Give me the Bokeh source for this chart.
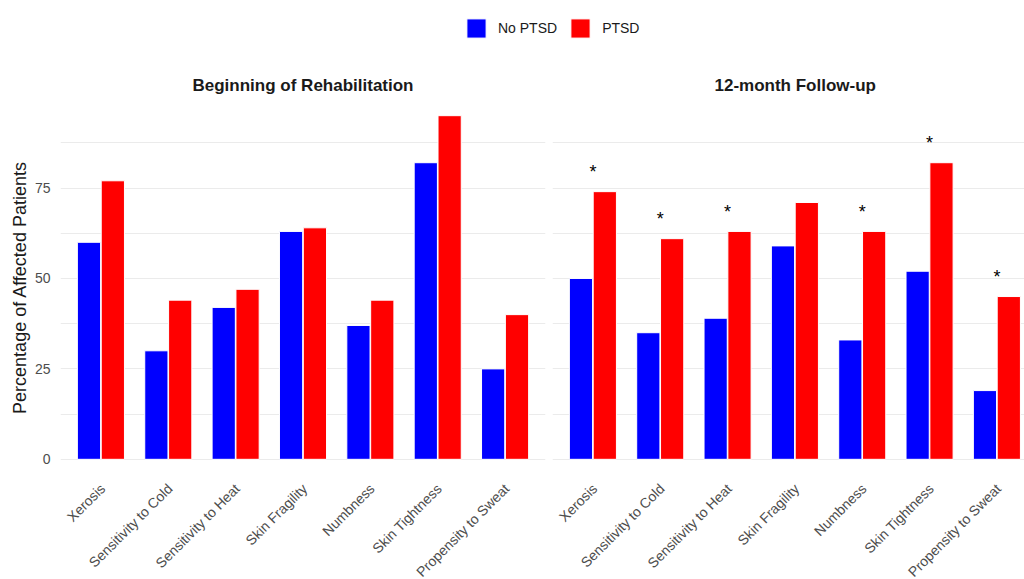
import numpy as np
from bokeh.plotting import figure
from bokeh.layouts import column, row
from bokeh.models import (ColumnDataSource, Range1d, FixedTicker, Legend, LegendItem)
from bokeh.transform import dodge
from bokeh.core.properties import value
from bokeh.embed import file_html
from bokeh.resources import INLINE

# ---------------- data ----------------
categories = ["Xerosis", "Sensitivity to Cold", "Sensitivity to Heat",
              "Skin Fragility", "Numbness", "Skin Tightness", "Propensity to Sweat"]
groups = ["No PTSD", "PTSD"]
panels = ["Beginning of Rehabilitation", "12-month Follow-up"]
begin_no_ptsd = [60, 30, 42, 63, 37, 82, 25]
begin_ptsd = [77, 44, 47, 64, 44, 95, 40]
follow_no_ptsd = [50, 35, 39, 59, 33, 52, 19]
follow_ptsd = [74, 61, 63, 71, 63, 82, 45]
follow_significant = [True, True, True, False, True, True, True]
y_ticks = [0, 25, 50, 75]
y_minor = [12.5, 37.5, 62.5, 87.5]

BLUE = "#0000FF"
RED = "#FF0000"
FONT = "Liberation Sans"
GRID = "#EBEBEB"
TICK_COL = "#4D4D4D"
Y_START, Y_END = -4.75, 99.75

positions = list(range(1, len(categories) + 1))


def make_panel(title, no_vals, ptsd_vals, x_end, width, left_axis, mbl, mbr,
               stars=None, title_offset=None):
    p = figure(width=width, height=426, output_backend="svg", toolbar_location=None,
               x_range=Range1d(0.4, x_end), y_range=Range1d(Y_START, Y_END),
               min_border_left=mbl, min_border_right=mbr, min_border_top=48,
               min_border_bottom=0, outline_line_color=None)
    src = ColumnDataSource(dict(x=positions, cat=categories, no=no_vals, ptsd=ptsd_vals))
    p.vbar(x=dodge("x", -0.177, range=p.x_range), top="no", width=0.345, source=src,
           fill_color=BLUE, line_color="white", line_width=1)
    p.vbar(x=dodge("x", 0.177, range=p.x_range), top="ptsd", width=0.345, source=src,
           fill_color=RED, line_color="white", line_width=1)
    if stars is not None:
        sx = [pos for pos, s in zip(positions, stars) if s]
        sy = [v + 6 for v, s in zip(ptsd_vals, stars) if s]
        ssrc = ColumnDataSource(dict(x=sx, y=sy, t=["*"] * len(sx)))
        p.text(x="x", y="y", text="t", source=ssrc, text_align="center",
               text_baseline="middle", y_offset=2, text_font=value(FONT),
               text_font_size="18px", text_color="black")

    p.title.text = title
    p.title.text_font = FONT
    p.title.text_font_size = "17px"
    p.title.text_font_style = "bold"
    p.title.text_color = "#1A1A1A"
    p.title.standoff = 8
    if title_offset is None:
        p.title.align = "center"
    else:
        p.title.align = "left"
        p.title.offset = title_offset

    p.xgrid.grid_line_color = None
    p.ygrid.grid_line_color = GRID
    p.ygrid.grid_line_width = 1.2
    p.ygrid.minor_grid_line_color = GRID
    p.ygrid.minor_grid_line_width = 1

    p.xaxis.visible = False
    p.yaxis.ticker = FixedTicker(ticks=y_ticks, minor_ticks=y_minor)
    ax = p.yaxis[0]
    ax.axis_line_color = None
    ax.major_tick_line_color = None
    ax.minor_tick_line_color = None
    ax.major_label_text_font = FONT
    ax.major_label_text_font_size = "14px"
    ax.major_label_text_color = TICK_COL
    if left_axis:
        p.yaxis.axis_label = "Percentage of Affected Patients"
        p.yaxis.axis_label_text_font = FONT
        p.yaxis.axis_label_text_font_size = "18px"
        p.yaxis.axis_label_text_font_style = "normal"
        p.yaxis.axis_label_text_color = "#1A1A1A"
        p.yaxis.major_label_standoff = 4
        p.yaxis.axis_label_standoff = 2
    else:
        p.yaxis.visible = False

    # strip below the panel holding the rotated category labels (shares the x scale)
    lab = figure(width=width, height=103, output_backend="svg", toolbar_location=None,
                 x_range=p.x_range, y_range=Range1d(0, 1),
                 min_border_left=mbl, min_border_right=mbr, min_border_top=0,
                 min_border_bottom=0, outline_line_color=None)
    lab.axis.visible = False
    lab.grid.grid_line_color = None
    lsrc = ColumnDataSource(dict(x=positions, cat=categories, top=[1] * len(positions)))
    lab.text(x="x", y="top", text="cat", source=lsrc, angle=np.pi / 4,
             text_align="right", text_baseline="top", x_offset=-4, y_offset=4,
             text_font=value(FONT), text_font_size="14px", text_color=TICK_COL)
    return column(p, lab)


left = make_panel(panels[0], begin_no_ptsd, begin_ptsd, 7.6, 549, True, 60, 4)
right = make_panel(panels[1], follow_no_ptsd, follow_ptsd, 7.41, 475, False, 3, 0,
                   stars=follow_significant, title_offset=162)

# legend strip
lg = figure(width=1024, height=50, output_backend="svg", toolbar_location=None,
            x_range=Range1d(0, 1), y_range=Range1d(0, 1), min_border=0,
            outline_line_color=None)
lg.axis.visible = False
lg.grid.grid_line_color = None
offscreen = ColumnDataSource(dict(x=[-10], top=[0]))
r1 = lg.vbar(x="x", top="top", width=0.1, source=offscreen, fill_color=BLUE, line_color="white")
r2 = lg.vbar(x="x", top="top", width=0.1, source=offscreen, fill_color=RED, line_color="white")
legend = Legend(items=[LegendItem(label=groups[0], renderers=[r1]),
                       LegendItem(label=groups[1], renderers=[r2])],
                orientation="horizontal", location=(464, 10),
                glyph_width=24, glyph_height=24, label_standoff=10, spacing=11,
                padding=0, margin=0, border_line_color=None, background_fill_alpha=0,
                label_text_font=FONT, label_text_font_size="14px",
                label_text_color="#1A1A1A")
lg.add_layout(legend, "center")

layout = column(lg, row(left, right))
open("out.html", "w").write(file_html(layout, INLINE))
